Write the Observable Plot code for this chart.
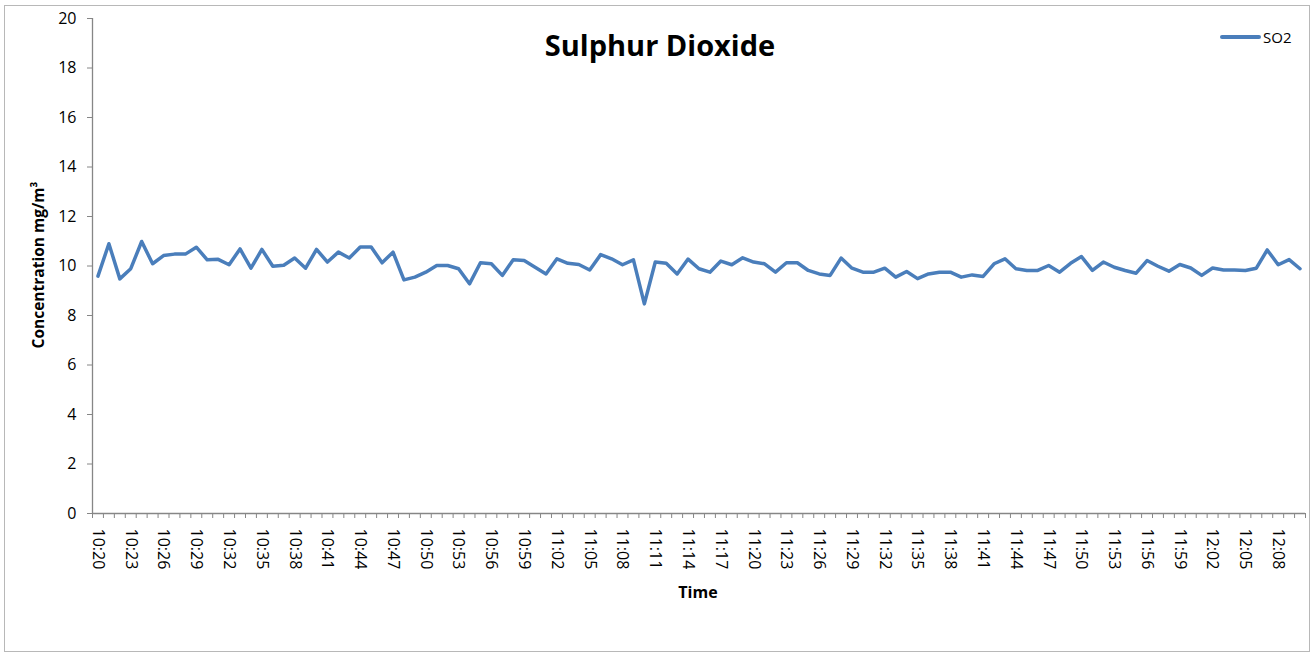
<!DOCTYPE html>
<html>
<head>
<meta charset="utf-8">
<script src="https://cdn.jsdelivr.net/npm/d3@7"></script>
<script src="https://cdn.jsdelivr.net/npm/@observablehq/plot@0.6"></script>
<style>
  html, body { margin: 0; padding: 0; background: #fff; }
  #wrap { position: relative; width: 1314px; height: 656px; overflow: hidden; font-family: "Open Sans", sans-serif; }
  #border { position: absolute; left: 4px; top: 5px; width: 1306px; height: 647px; border: 1px solid #b8b8b8; box-sizing: border-box; pointer-events: none; }
  #chart { position: absolute; left: 0; top: 0; }
  #title { position: absolute; left: 0; width: 1320px; top: 30px; text-align: center; font-weight: 700; font-size: 29px; color: #000; line-height: 1; }
  #ytitle { position: absolute; left: 38px; top: 265px; transform: translate(-50%, -50%) rotate(-90deg); white-space: nowrap; font-weight: 700; font-size: 15.5px; color: #000; }
  #xtitle { position: absolute; left: 698px; top: 592px; transform: translate(-50%, -50%); font-weight: 700; font-size: 16px; color: #000; }
  #legend { position: absolute; left: 1220px; top: 27px; display: flex; align-items: center; font-size: 15px; color: #000; }
  #legend .sw { width: 41px; height: 4px; background: #4a7ebb; border-radius: 2px; margin-right: 2px; }
</style>
</head>
<body>
<div id="wrap">
  <div id="chart"></div>
  <div id="border"></div>
  <div id="title">Sulphur Dioxide</div>
  <div id="ytitle">Concentration mg/m³</div>
  <div id="xtitle">Time</div>
  <div id="legend"><div class="sw"></div><span>SO2</span></div>
</div>
<script>
const times = [
  "10:20","10:21","10:22","10:23","10:24","10:25","10:26","10:27","10:28","10:29",
  "10:30","10:31","10:32","10:33","10:34","10:35","10:36","10:37","10:38","10:39",
  "10:40","10:41","10:42","10:43","10:44","10:45","10:46","10:47","10:48","10:49",
  "10:50","10:51","10:52","10:53","10:54","10:55","10:56","10:57","10:58","10:59",
  "11:00","11:01","11:02","11:03","11:04","11:05","11:06","11:07","11:08","11:09",
  "11:10","11:11","11:12","11:13","11:14","11:15","11:16","11:17","11:18","11:19",
  "11:20","11:21","11:22","11:23","11:24","11:25","11:26","11:27","11:28","11:29",
  "11:30","11:31","11:32","11:33","11:34","11:35","11:36","11:37","11:38","11:39",
  "11:40","11:41","11:42","11:43","11:44","11:45","11:46","11:47","11:48","11:49",
  "11:50","11:51","11:52","11:53","11:54","11:55","11:56","11:57","11:58","11:59",
  "12:00","12:01","12:02","12:03","12:04","12:05","12:06","12:07","12:08","12:09",
  "12:10"
];
const so2 = [
  9.59,10.90,9.48,9.89,10.99,10.09,10.42,10.48,10.48,10.76,
  10.25,10.27,10.05,10.69,9.91,10.67,9.99,10.03,10.32,9.91,
  10.67,10.16,10.56,10.32,10.77,10.77,10.13,10.56,9.44,9.55,
  9.75,10.02,10.02,9.89,9.28,10.13,10.09,9.62,10.25,10.22,
  9.95,9.68,10.29,10.11,10.06,9.84,10.46,10.29,10.05,10.25,
  8.47,10.16,10.11,9.68,10.28,9.89,9.75,10.20,10.05,10.33,
  10.16,10.09,9.75,10.13,10.13,9.82,9.68,9.62,10.32,9.91,
  9.75,9.75,9.91,9.55,9.78,9.49,9.68,9.75,9.75,9.55,
  9.64,9.58,10.09,10.29,9.89,9.82,9.82,10.02,9.75,10.11,
  10.38,9.82,10.16,9.95,9.82,9.71,10.22,9.99,9.79,10.06,
  9.92,9.62,9.92,9.84,9.84,9.82,9.91,10.65,10.05,10.26,
  9.89
];
const yTicks = [0, 2, 4, 6, 8, 10, 12, 14, 16, 18, 20];
const labelEvery = 3;

const data = so2.map((v, i) => ({i, time: times[i], v}));
const labelIdx = times.map((t, i) => i).filter(i => i % labelEvery === 0);
const boundaries = d3.range(times.length + 1).map(k => k - 0.5);
const axisGray = "#868686";

const chart = Plot.plot({
  width: 1314,
  height: 656,
  marginLeft: 92,
  marginRight: 9,
  marginTop: 18,
  marginBottom: 143,
  style: {fontFamily: "Open Sans, sans-serif", fontSize: "16px", color: "#000", background: "transparent"},
  x: {domain: [-0.5, times.length - 0.5], axis: null},
  y: {domain: [0, 20], axis: null},
  marks: [
    Plot.axisY(yTicks, {tickSize: 5, tickPadding: 11, stroke: axisGray, fill: "#000", fontSize: 16, label: null, tickFormat: d => String(d)}),
    Plot.axisX(boundaries, {tickSize: 5, stroke: axisGray, tickFormat: () => "", label: null}),
    Plot.axisX(labelIdx, {tickSize: 0, tickPadding: 15, tickRotate: 90, fill: "#000", fontSize: 16, tickFormat: i => times[i], label: null}),
    Plot.ruleY([0], {stroke: axisGray, strokeWidth: 1.3}),
    Plot.ruleX([-0.5], {stroke: axisGray, strokeWidth: 1.3}),
    Plot.line(data, {x: "i", y: "v", stroke: "#4a7ebb", strokeWidth: 3.5, strokeLinejoin: "round", strokeLinecap: "round"})
  ]
});
document.getElementById("chart").appendChild(chart);
</script>
</body>
</html>
